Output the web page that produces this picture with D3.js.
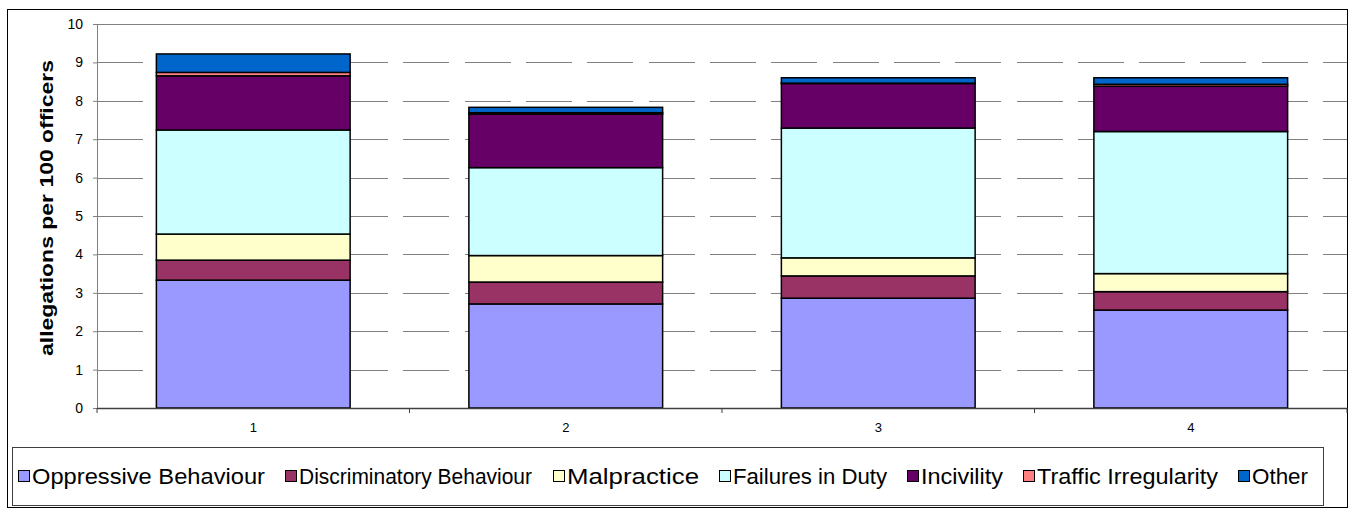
<!DOCTYPE html>
<meta charset="utf-8">
<style>
body { margin: 0; background: #fff; }
text { font-family: Arial, "Liberation Sans", sans-serif; fill: #000; }
.grid line { stroke: #808080; stroke-width: 1px; stroke-dasharray: 46 15.3; shape-rendering: crispEdges; }
.grid path { stroke-width: 0; }
.bar { stroke: #000; stroke-width: 1.5px; }
</style>
<body>
<script src="https://d3js.org/d3.v7.min.js"></script>
<script>

// data
var categories = ["1", "2", "3", "4"];
var seriesNames = ["Oppressive Behaviour", "Discriminatory Behaviour", "Malpractice",
                   "Failures in Duty", "Incivility", "Traffic Irregularity", "Other"];
var oppressive     = [3.33, 2.71, 2.86, 2.55];
var discriminatory = [0.52, 0.57, 0.58, 0.48];
var malpractice    = [0.68, 0.69, 0.47, 0.47];
var failures       = [2.71, 2.29, 3.38, 3.70];
var incivility     = [1.41, 1.39, 1.16, 1.18];
var traffic        = [0.09, 0.04, 0.01, 0.05];
var other          = [0.48, 0.14, 0.14, 0.17];
var yTicks = [0, 1, 2, 3, 4, 5, 6, 7, 8, 9, 10];
var colors = ["#9999FF", "#993366", "#FFFFCC", "#CCFFFF", "#660066", "#FF8080", "#0066CC"];

var W = 1351, H = 510;
var plot = {left: 97, right: 1347, top: 24, bottom: 408};

var svg = d3.select("body").append("svg")
    .attr("width", W)
    .attr("height", H);

// build rows for the stack
var allSeries = [oppressive, discriminatory, malpractice, failures, incivility, traffic, other];
var rows = categories.map(function(c, i) {
  var r = {cat: c};
  seriesNames.forEach(function(n, j) { r[n] = allSeries[j][i]; });
  return r;
});
var stacked = d3.stack().keys(seriesNames)(rows);

var x = d3.scaleBand().domain(categories)
    .range([plot.left, plot.right])
    .paddingInner(0.38).paddingOuter(0.19);
var y = d3.scaleLinear().domain([0, 10]).range([plot.bottom, plot.top]);

// outer chart border
svg.append("rect")
    .attr("x", 7.5).attr("y", 9.5)
    .attr("width", 1340).attr("height", 498)
    .attr("fill", "none").attr("stroke", "#000").attr("stroke-width", 1);

// dashed gridlines
svg.append("g")
    .attr("class", "grid")
    .attr("transform", "translate(" + plot.left + ",0)")
    .call(d3.axisLeft(y).tickValues(yTicks.slice(1, -1))
        .tickSize(-(plot.right - plot.left))
        .tickFormat(""));

// top line of plot area
svg.append("line")
    .attr("x1", plot.left).attr("x2", plot.right)
    .attr("y1", y(10) + 0.5).attr("y2", y(10) + 0.5)
    .attr("stroke", "#808080");

// bars
svg.append("g")
  .selectAll("g")
  .data(stacked)
  .enter().append("g")
    .attr("fill", function(d, i) { return colors[i]; })
  .selectAll("rect")
  .data(function(d) { return d; })
  .enter().append("rect")
    .attr("class", "bar")
    .attr("x", function(d) { return x(d.data.cat); })
    .attr("y", function(d) { return y(d[1]); })
    .attr("width", x.bandwidth())
    .attr("height", function(d) { return y(d[0]) - y(d[1]); });

// y axis
var gy = svg.append("g")
    .attr("transform", "translate(" + plot.left + ",0)")
    .call(d3.axisLeft(y).tickValues(yTicks).tickSize(4).tickPadding(10));
gy.select(".domain").attr("stroke", "#808080");
gy.selectAll(".tick line").attr("stroke", "#808080");
gy.selectAll("text").style("font-size", "14px");

// x axis
var xEdges = d3.range(categories.length + 1).map(function(i) { return plot.left + i * x.step(); });
var gx = svg.append("g");
gx.append("line")
    .attr("x1", plot.left).attr("x2", plot.right)
    .attr("y1", plot.bottom + 0.5).attr("y2", plot.bottom + 0.5)
    .attr("stroke", "#404040").attr("stroke-width", 1.5);
gx.selectAll(".xt")
  .data(xEdges)
  .enter().append("line")
    .attr("x1", function(d) { return d; }).attr("x2", function(d) { return d; })
    .attr("y1", plot.bottom).attr("y2", plot.bottom + 5)
    .attr("stroke", "#404040");
gx.selectAll(".xl")
  .data(categories)
  .enter().append("text")
    .attr("x", function(d) { return x(d) + x.bandwidth() / 2; })
    .attr("y", 432)
    .attr("text-anchor", "middle")
    .style("font-size", "13px")
    .text(function(d) { return d; });

// y axis label
svg.append("text")
    .attr("transform", "translate(53,208) rotate(-90)")
    .attr("text-anchor", "middle")
    .style("font-size", "19px")
    .style("font-weight", "bold")
    .attr("textLength", 296)
    .attr("lengthAdjust", "spacingAndGlyphs")
    .text("allegations per 100 officers");

// legend
svg.append("rect")
    .attr("x", 12.5).attr("y", 447.5)
    .attr("width", 1311).attr("height", 58)
    .attr("fill", "#fff").attr("stroke", "#404040").attr("stroke-width", 1);

var legendX = [18, 285, 553, 719, 907, 1023, 1238];
var legendW = [233, 233, 132, 154, 82, 181, 56];
var lg = svg.append("g")
  .selectAll("g")
  .data(seriesNames)
  .enter().append("g")
    .attr("transform", function(d, i) { return "translate(" + legendX[i] + ",476)"; });
lg.append("rect")
    .attr("x", 0.5).attr("y", -5.5)
    .attr("width", 11).attr("height", 11)
    .attr("fill", function(d, i) { return colors[i]; })
    .attr("stroke", "#000").attr("stroke-width", 1);
lg.append("text")
    .attr("x", 14)
    .attr("y", 7.5)
    .style("font-size", "22px")
    .attr("textLength", function(d, i) { return legendW[i]; })
    .attr("lengthAdjust", "spacingAndGlyphs")
    .text(function(d) { return d; });

</script>
</body>
